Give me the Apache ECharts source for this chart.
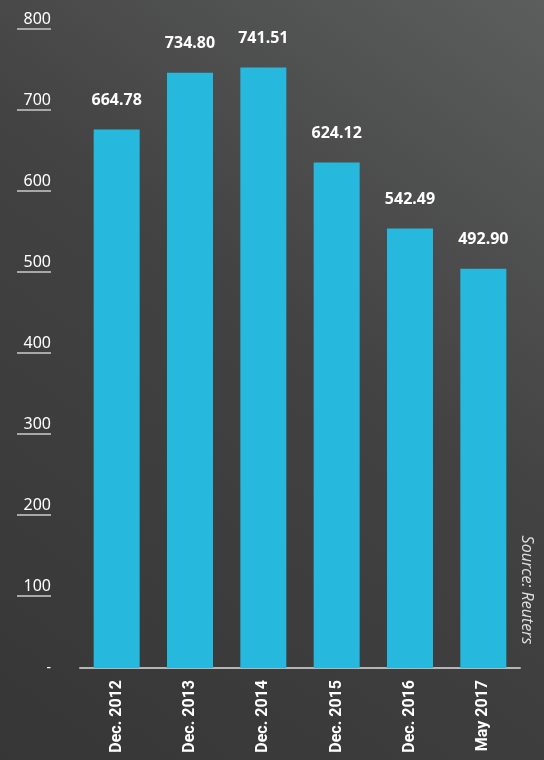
<!DOCTYPE html>
<html>
<head>
<meta charset="utf-8">
<script src="https://cdn.jsdelivr.net/npm/echarts@6/dist/echarts.min.js"></script>
<style>
  html, body { margin: 0; padding: 0; }
  #chart { width: 544px; height: 760px; }
</style>
</head>
<body>
<div id="chart"></div>
<script>
// Period labels along the x axis
const periods = ['Dec. 2012', 'Dec. 2013', 'Dec. 2014', 'Dec. 2015', 'Dec. 2016', 'May 2017'];
// Values per period
const values = [664.78, 734.80, 741.51, 624.12, 542.49, 492.90];
// Value axis range
const yMin = 0, yMax = 800, yStep = 100;
const sourceNote = 'Source: Reuters';

const chart = echarts.init(document.getElementById('chart'));
chart.setOption({
  backgroundColor: new echarts.graphic.LinearGradient(0, 1, 1, 0, [
    { offset: 0, color: '#363636' },
    { offset: 0.55, color: '#424242' },
    { offset: 1, color: '#5c5d5d' }
  ]),
  animation: false,
  grid: { left: 80, right: 24, top: 20, bottom: 92 },
  xAxis: {
    type: 'category',
    data: periods,
    axisLine: { show: true, lineStyle: { color: '#b5b5b5', width: 2 } },
    axisTick: { show: false },
    axisLabel: {
      rotate: 90,
      margin: 12,
      color: '#ffffff',
      fontFamily: 'Roboto',
      fontWeight: 'bold',
      fontSize: 16
    }
  },
  yAxis: {
    type: 'value',
    min: yMin,
    max: yMax,
    interval: yStep,
    splitLine: { show: false },
    axisLine: { show: false },
    axisTick: { show: false },
    axisLabel: {
      margin: 29,
      formatter: v => v === 0 ? '{z|-}' : '{v|' + v + '}\n{u|}',
      rich: {
        v: { color: '#ffffff', fontFamily: 'Noto Sans', fontSize: 16, lineHeight: 18, align: 'right' },
        u: { width: 34, height: 2, backgroundColor: '#a8a8a8', align: 'right' },
        z: { color: '#ffffff', fontFamily: 'Noto Sans', fontSize: 14, align: 'right' }
      }
    }
  },
  series: [{
    type: 'bar',
    data: values,
    barWidth: 46,
    itemStyle: { color: '#26b9dd' },
    label: {
      show: true,
      position: 'top',
      distance: 21,
      color: '#ffffff',
      fontFamily: 'Noto Sans',
      fontWeight: 'bold',
      fontSize: 16,
      formatter: p => p.value.toFixed(2)
    }
  }],
  graphic: [{
    type: 'text',
    x: 527,
    y: 590,
    rotation: -Math.PI / 2,
    style: {
      text: sourceNote,
      fill: '#e0e0e0',
      font: 'italic 16px "Open Sans"',
      align: 'center',
      verticalAlign: 'middle'
    }
  }]
});
</script>
</body>
</html>
